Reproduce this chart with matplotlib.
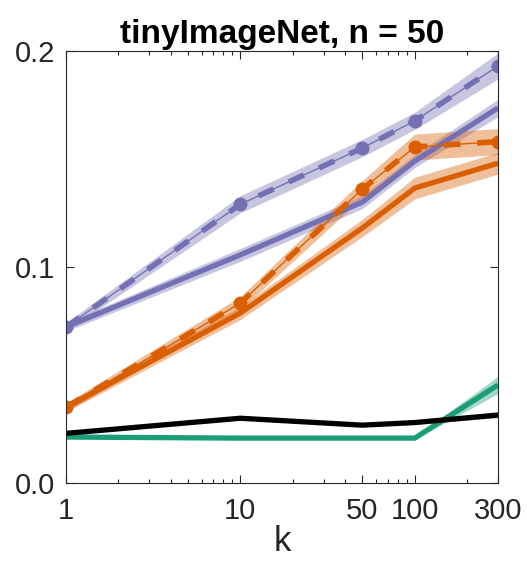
import matplotlib
matplotlib.use("Agg")
import matplotlib.pyplot as plt
import numpy as np

plt.rcParams['font.family'] = ['Liberation Sans', 'DejaVu Sans']

k = [1, 10, 50, 100, 300]

purple_dash = [0.0722, 0.129, 0.155, 0.1676, 0.193]
purple_dash_err = [0.002, 0.004, 0.004, 0.004, 0.006]
purple_solid = [0.0722, 0.1056, 0.130, 0.149, 0.1736]
purple_solid_err = [0.002, 0.003, 0.003, 0.003, 0.004]
orange_dash = [0.035, 0.0833, 0.136, 0.1555, 0.158]
orange_dash_err = [0.002, 0.003, 0.004, 0.006, 0.006]
orange_solid = [0.035, 0.0787, 0.118, 0.1365, 0.148]
orange_solid_err = [0.002, 0.003, 0.004, 0.005, 0.005]
black = [0.023, 0.030, 0.0268, 0.028, 0.0315]
black_err = [0.0005, 0.0005, 0.0005, 0.0008, 0.0012]
green = [0.0213, 0.0208, 0.0208, 0.0208, 0.0454]
green_err = [0.0005, 0.0005, 0.0005, 0.0006, 0.004]

PURPLE = '#7570b3'
ORANGE = '#d95f02'
GREEN = '#1b9e77'

fig = plt.figure(figsize=(5.27, 5.65), dpi=100)
ax = fig.add_axes([0.125, 0.145, 0.82, 0.765])


def band(y, e, c, a=0.4):
    y = np.array(y)
    e = np.array(e)
    ax.fill_between(k, y - e, y + e, color=c, alpha=a, lw=0)


# solid lines
for y, e, c in [(green, green_err, GREEN), (black, black_err, 'k'),
                (orange_solid, orange_solid_err, ORANGE),
                (purple_solid, purple_solid_err, PURPLE)]:
    band(y, e, c)
    ax.plot(k, y, color=c, lw=3.8, solid_capstyle='butt')

# dashed lines with markers
for y, e, c in [(orange_dash, orange_dash_err, ORANGE),
                (purple_dash, purple_dash_err, PURPLE)]:
    band(y, e, c)
    ax.plot(k, y, color=c, lw=1)
    ax.plot(k, y, color=c, lw=4, dashes=(3, 3))
    ax.plot(k, y, 'o', color=c, ms=9, mec=c, mfc=c)

ax.set_xscale('log')
ax.set_xlim(1, 300)
ax.set_ylim(0, 0.2)
ax.set_xticks(k)
ax.set_xticklabels(['1', '10', '50', '100', '300'])
ax.set_yticks([0, 0.1, 0.2])
ax.set_yticklabels(['0.0', '0.1', '0.2'])
ax.tick_params(which='both', direction='in', top=True, right=True,
               labelsize=21, colors='#262626')
ax.tick_params(axis='x', pad=10)
ax.tick_params(axis='y', pad=8)
ax.tick_params(which='major', length=6, width=0.8)
ax.tick_params(which='minor', length=3, width=0.8)
for s in ax.spines.values():
    s.set_linewidth(0.8)
    s.set_color('#262626')

ax.set_xlabel('k', fontsize=25, color='#262626', labelpad=0)
ax.set_title('tinyImageNet, n = 50', fontsize=24, fontweight='bold', pad=6)

fig.savefig('out.png', dpi=100)
